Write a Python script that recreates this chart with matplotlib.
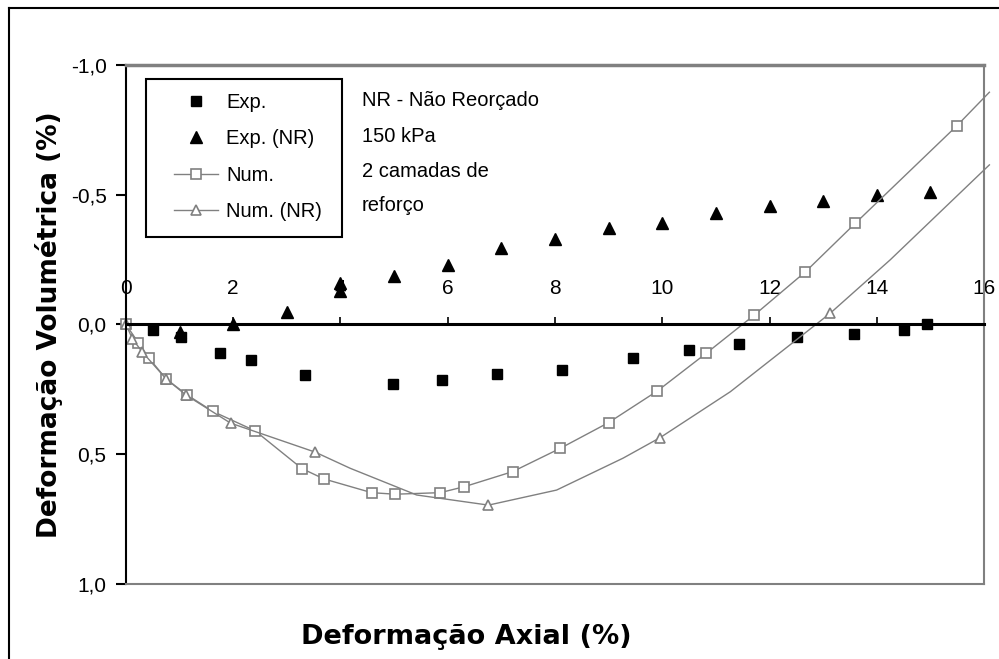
import matplotlib.pyplot as plt
from matplotlib.lines import Line2D
from matplotlib.patches import Rectangle
from matplotlib.ticker import FuncFormatter

# Exp. - filled squares
exp_x = [0.50, 1.02, 1.75, 2.34, 3.34, 4.97, 5.89, 6.91, 8.13, 9.46, 10.49, 11.44, 12.51, 13.57, 14.51, 14.93]
exp_y = [0.02, 0.05, 0.11, 0.135, 0.195, 0.23, 0.215, 0.19, 0.175, 0.13, 0.10, 0.075, 0.05, 0.035, 0.02, 0.0]

# Exp. (NR) - filled triangles
exp_nr_x = [1.0, 2.0, 3.0, 4.0, 4.0, 5.0, 6.0, 7.0, 8.0, 9.0, 10.0, 11.0, 12.0, 13.0, 14.0, 15.0]
exp_nr_y = [0.03, 0.0, -0.05, -0.13, -0.16, -0.185, -0.23, -0.295, -0.33, -0.37, -0.39, -0.43, -0.455, -0.475, -0.50, -0.51]

# Num. - line with open squares (last point only continues the line)
num_x = [0, 0.23, 0.43, 0.75, 1.13, 1.62, 2.41, 3.28, 3.69, 4.58, 5.02, 5.86, 6.31, 7.21,
         8.10, 9.0, 9.91, 10.82, 11.72, 12.67, 13.60, 15.49, 16.1]
num_y = [0, 0.07, 0.13, 0.21, 0.27, 0.335, 0.41, 0.555, 0.595, 0.648, 0.654, 0.648, 0.625, 0.567,
         0.477, 0.378, 0.256, 0.111, -0.037, -0.203, -0.39, -0.765, -0.895]
num_marks = list(range(len(num_x) - 1))

# Num. (NR) - line with open triangles
num_nr_x = [0, 0.12, 0.30, 0.75, 1.12, 1.95, 3.53, 4.18, 5.42, 6.76, 8.03, 9.27, 9.96, 11.27, 13.13, 14.25, 16.1]
num_nr_y = [0, 0.055, 0.105, 0.21, 0.272, 0.38, 0.492, 0.554, 0.657, 0.696, 0.638, 0.515, 0.436, 0.259, -0.043, -0.249, -0.615]
num_nr_marks = [0, 1, 2, 3, 4, 5, 6, 9, 12, 14]

x_ticks = [0, 2, 4, 6, 8, 10, 12, 14, 16]
y_ticks = [-1.0, -0.5, 0.0, 0.5, 1.0]
notes = ['NR - Não Reorçado', '150 kPa', '2 camadas de', 'reforço']
notes_y = [-0.862, -0.725, -0.59, -0.46]

GRAY = '#808080'
TICK_FONT = 'Liberation Sans'

fig = plt.figure(figsize=(9.99, 6.59), dpi=100)
ax = fig.add_axes([0.1261, 0.1138, 0.8589, 0.7876])

ax.plot(exp_x, exp_y, 's', color='black', markersize=7.5, label='Exp.')
ax.plot(exp_nr_x, exp_nr_y, '^', color='black', markersize=8, label='Exp. (NR)')
ax.plot(num_x, num_y, '-s', color=GRAY, lw=1.0, markersize=6.5, markerfacecolor='white',
        markeredgecolor=GRAY, markeredgewidth=1.2, markevery=num_marks, clip_on=False, label='Num.')
ax.plot(num_nr_x, num_nr_y, '-^', color=GRAY, lw=1.0, markersize=7, markerfacecolor='white',
        markeredgecolor=GRAY, markeredgewidth=1.2, markevery=num_nr_marks, clip_on=False, label='Num. (NR)')

ax.set_xlim(0, 16)
ax.set_ylim(1.0, -1.0)

# x axis runs along the zero line with labels above it
ax.spines['top'].set_position(('data', 0))
ax.spines['top'].set_linewidth(2.2)
ax.spines['top'].set_color('black')
ax.xaxis.tick_top()
ax.set_xticks(x_ticks)
ax.tick_params(axis='x', direction='out', length=5, width=1.2, pad=14,
               labelsize=15, labelfontfamily=TICK_FONT)
ax.axhline(-1.0, color=GRAY, lw=2.5, clip_on=False, zorder=3)

ax.spines['bottom'].set_color(GRAY)
ax.spines['bottom'].set_linewidth(1.5)
ax.spines['right'].set_color(GRAY)
ax.spines['right'].set_linewidth(1.5)
ax.spines['left'].set_color('black')
ax.spines['left'].set_linewidth(1.5)

ax.set_yticks(y_ticks)
ax.yaxis.set_major_formatter(FuncFormatter(lambda v, p: f'{v:.1f}'.replace('.', ',').replace('-0,0', '0,0')))
ax.tick_params(axis='y', direction='out', length=7, width=1.5, pad=7,
               labelsize=15, labelfontfamily=TICK_FONT)

ax.set_ylabel('Deformação Volumétrica (%)', fontsize=19, fontweight='bold', family='DejaVu Sans')
ax.yaxis.set_label_coords(-0.073, 0.5)
fig.text(466 / 999, 1 - 637 / 659, 'Deformação Axial (%)', fontsize=19.5, fontweight='bold',
         family='DejaVu Sans', ha='center', va='center')

# legend without its own frame; the box is drawn separately
leg = ax.legend(loc='upper left', bbox_to_anchor=(48 / 858, 1 - 28 / 519), borderaxespad=0,
                frameon=False, handlelength=2.2, handletextpad=0.4, labelspacing=0.86,
                borderpad=0, prop={'family': TICK_FONT, 'size': 14.5})
ax.add_patch(Rectangle((20 / 858, 1 - 172 / 519), 196 / 858, 158 / 519, transform=ax.transAxes,
                       facecolor='none', edgecolor='black', lw=1.5, zorder=5))

for txt, yy in zip(notes, notes_y):
    ax.text(0.275, yy, txt, transform=ax.get_yaxis_transform(), fontsize=14.5,
            family=TICK_FONT, va='center', ha='left')

# outer frame around the chart
fig.add_artist(Line2D([9 / 999, 1.0], [1 - 8 / 659, 1 - 8 / 659], color='black', lw=1.5))
fig.add_artist(Line2D([9 / 999, 9 / 999], [0.0, 1 - 8 / 659], color='black', lw=1.5))

fig.savefig('out.png', dpi=100)
